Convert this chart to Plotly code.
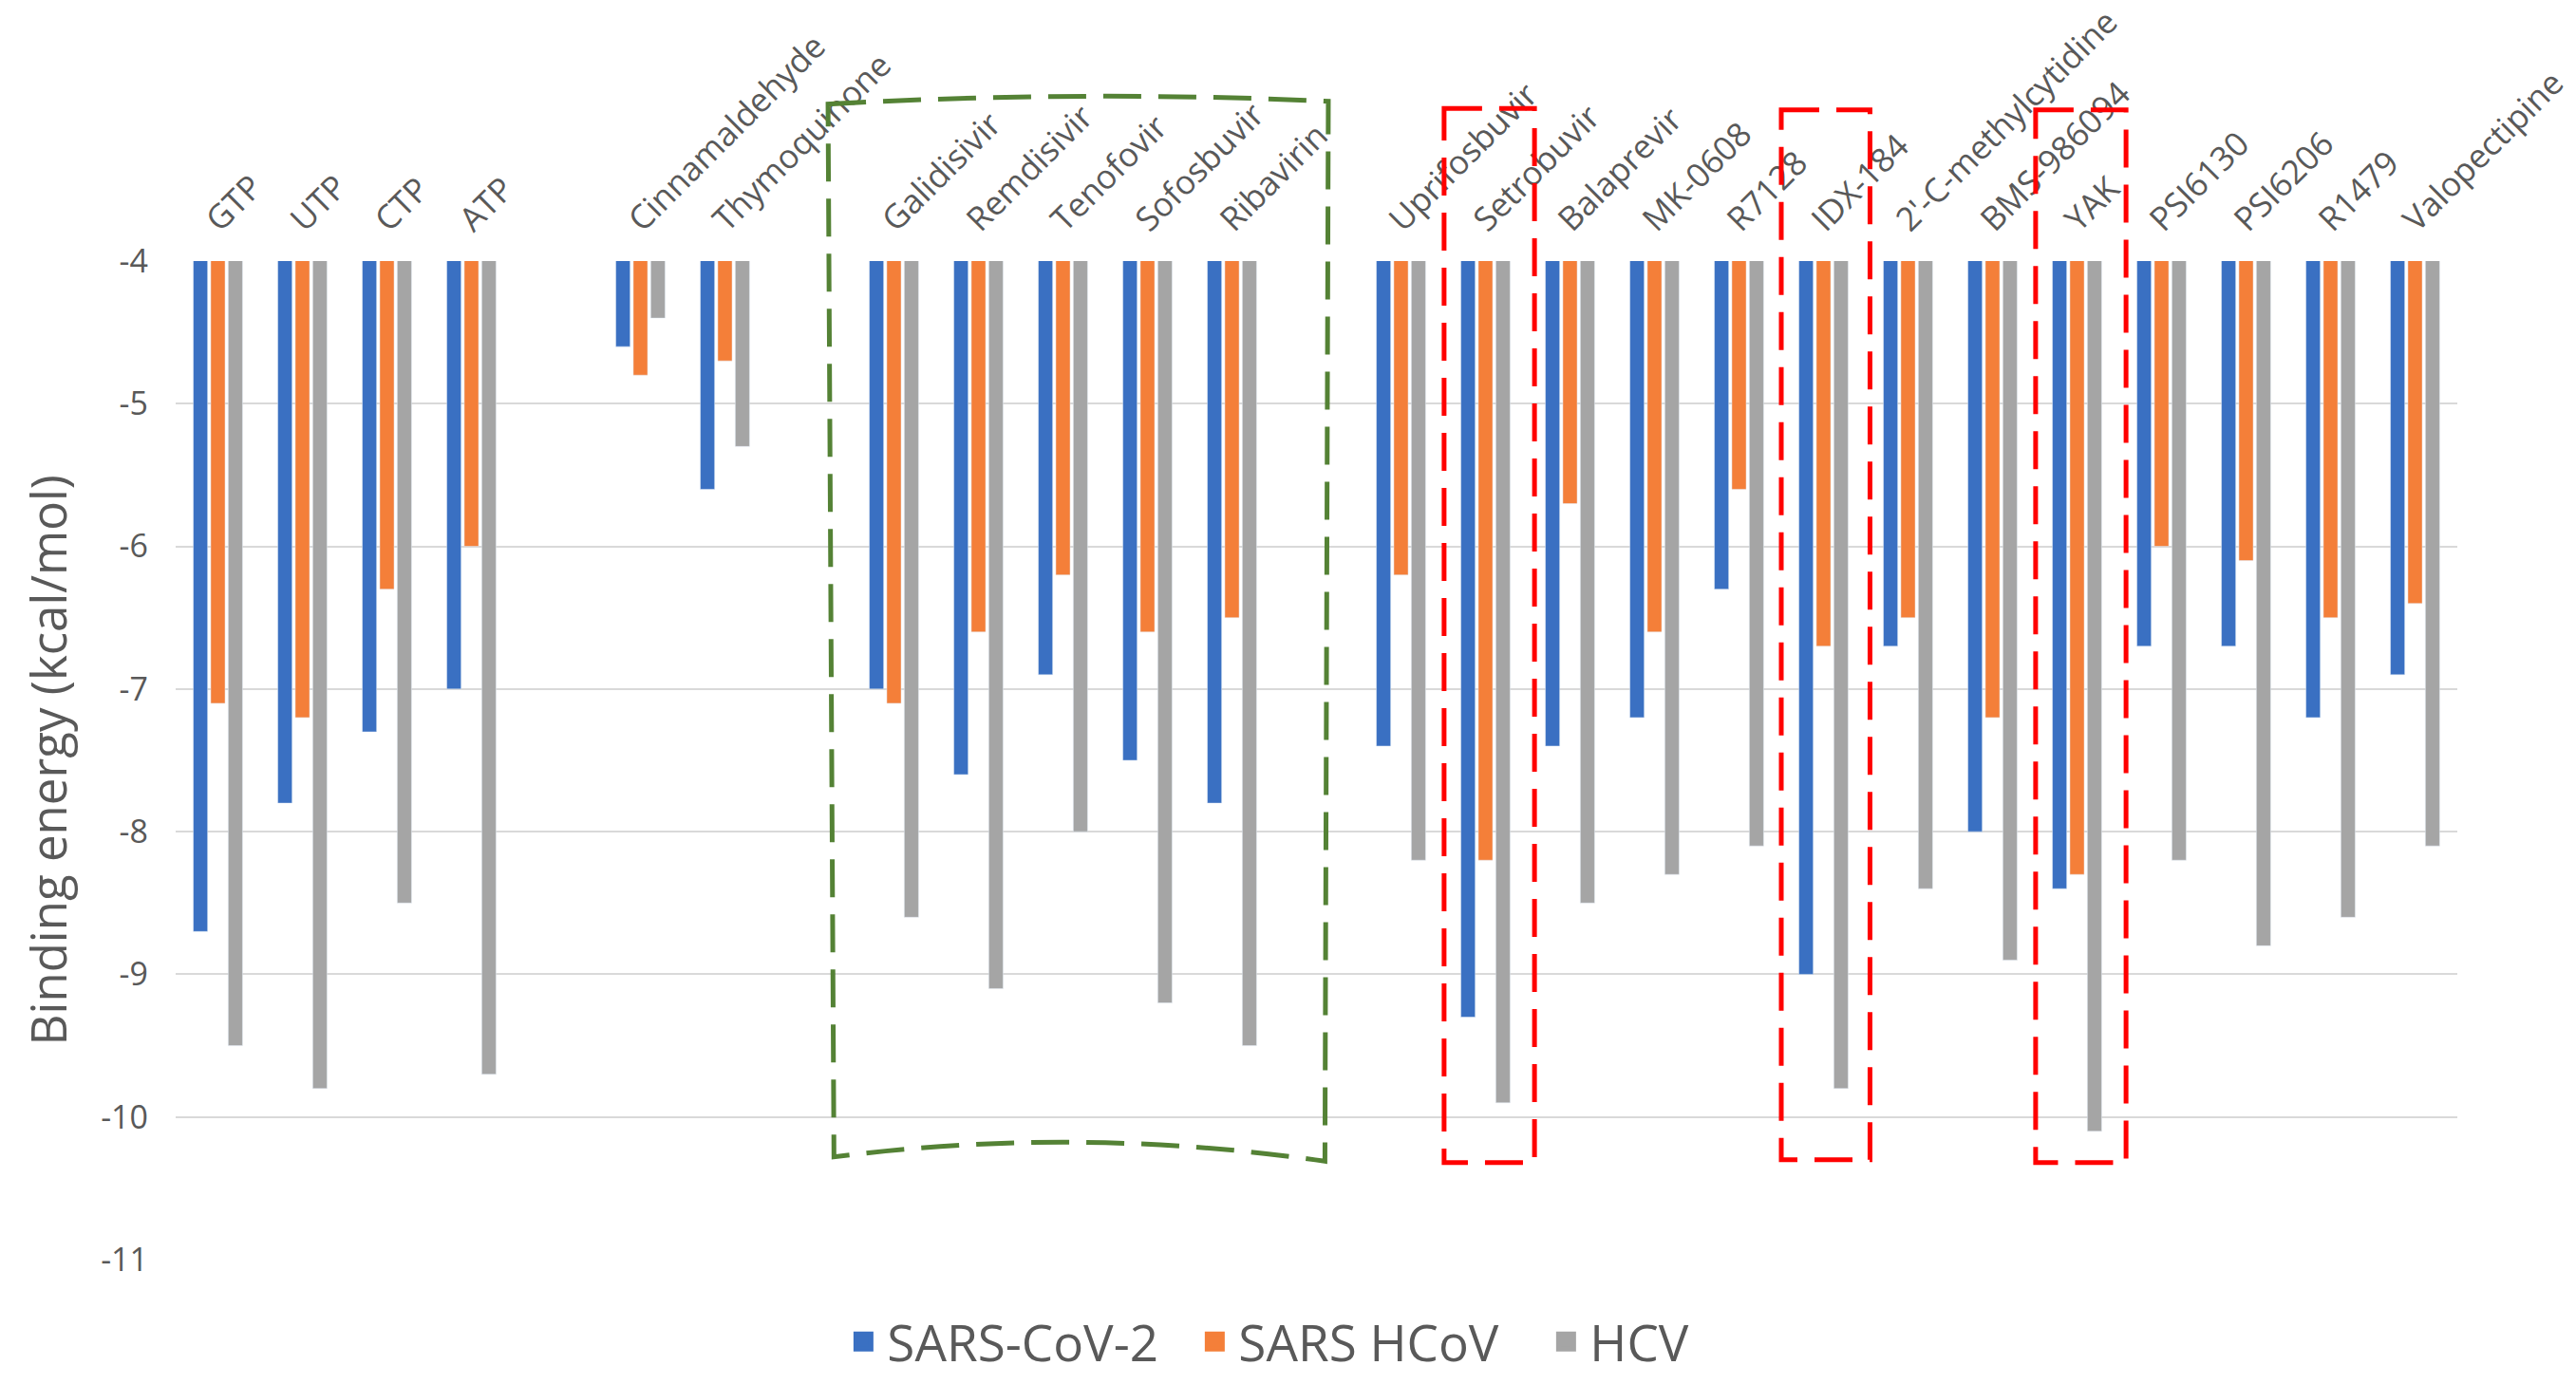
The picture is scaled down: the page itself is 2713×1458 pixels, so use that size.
import plotly.graph_objects as go

# compounds on the x axis ("" = empty slot between groups)
compounds = ["GTP", "UTP", "CTP", "ATP", "", "Cinnamaldehyde", "Thymoquinone", "",
             "Galidisivir", "Remdisivir", "Tenofovir", "Sofosbuvir", "Ribavirin", "",
             "Uprifosbuvir", "Setrobuvir", "Balaprevir", "MK-0608", "R7128", "IDX-184",
             "2'-C-methylcytidine", "BMS-986094", "YAK", "PSI6130", "PSI6206", "R1479",
             "Valopectipine"]

# binding energies (kcal/mol)
sars_cov2 = [-8.7, -7.8, -7.3, -7.0, None, -4.6, -5.6, None,
             -7.0, -7.6, -6.9, -7.5, -7.8, None,
             -7.4, -9.3, -7.4, -7.2, -6.3, -9.0, -6.7, -8.0, -8.4, -6.7, -6.7, -7.2, -6.9]
sars_hcov = [-7.1, -7.2, -6.3, -6.0, None, -4.8, -4.7, None,
             -7.1, -6.6, -6.2, -6.6, -6.5, None,
             -6.2, -8.2, -5.7, -6.6, -5.6, -6.7, -6.5, -7.2, -8.3, -6.0, -6.1, -6.5, -6.4]
hcv = [-9.5, -9.8, -8.5, -9.7, None, -4.4, -5.3, None,
       -8.6, -9.1, -8.0, -9.2, -9.5, None,
       -8.2, -9.9, -8.5, -8.3, -8.1, -9.8, -8.4, -8.9, -10.1, -8.2, -8.8, -8.6, -8.1]

y_ticks = [-4, -5, -6, -7, -8, -9, -10, -11]

Y_MIN, Y_MAX = -11, -4
FONT = "Open Sans"
TXT = "#595959"

x = list(range(len(compounds)))
label_pos = [i for i, c in enumerate(compounds) if c]
label_txt = [c for c in compounds if c]

fig = go.Figure()
for name, vals, col in [("SARS-CoV-2", sars_cov2, "#3A70C2"),
                        ("SARS HCoV", sars_hcov, "#F47F39"),
                        ("HCV", hcv, "#A5A5A5")]:
    fig.add_trace(go.Bar(x=x, y=vals, name=name, marker_color=col,
                         legendgroup=name, showlegend=False))
    # legend-only entry so the key square is bigger than the default bar swatch
    fig.add_trace(go.Scatter(x=[None], y=[None], mode="markers", name=name,
                             legendgroup=name,
                             marker=dict(symbol="square", size=16, color=col,
                                         line=dict(color=col, width=5))))


def py(v):
    # value -> paper y (so the boxes can go above the plot area)
    return (v - Y_MIN) / (Y_MAX - Y_MIN)


def box(xl, xr, yt, yb, color):
    return dict(type="path", xref="x", yref="paper",
                path=f"M{xl},{py(yt)} L{xr},{py(yt)} L{xr},{py(yb)} L{xl},{py(yb)} Z",
                line=dict(color=color, width=5, dash="40px,18px"))


green = "#548235"
green_path = (f"M7.22,{py(-2.90)} Q10.18,{py(-2.80)} 13.14,{py(-2.88)} "
              f"L13.10,{py(-10.31)} Q10.18,{py(-10.06)} 7.29,{py(-10.28)} Z")
shapes = [
    dict(type="path", xref="x", yref="paper", path=green_path,
         line=dict(color=green, width=5, dash="40px,18px")),
    box(14.51, 15.58, -2.93, -10.32, "#FF0000"),
    box(18.50, 19.55, -2.94, -10.30, "#FF0000"),
    box(21.51, 22.58, -2.94, -10.32, "#FF0000"),
]

fig.update_layout(
    width=2713, height=1458,
    margin=dict(l=177, r=133, t=267, b=132),
    paper_bgcolor="white", plot_bgcolor="white",
    font=dict(family=FONT, color=TXT),
    barmode="group", bargap=0.38, bargroupgap=0.18,
    showlegend=True,
    legend=dict(orientation="h", x=0.522, xanchor="center", y=-0.082, yanchor="middle",
                font=dict(size=53, color=TXT), itemwidth=40,
                entrywidth=315, entrywidthmode="pixels"),
    shapes=shapes,
    annotations=[dict(text="Binding energy (kcal/mol)", textangle=-90,
                      xref="paper", yref="paper", x=-0.056, y=0.5,
                      xanchor="center", yanchor="middle", showarrow=False,
                      font=dict(size=51, color=TXT))],
)
fig.update_xaxes(
    side="top", range=[-0.5, len(compounds) - 0.5], automargin=False,
    tickmode="array", tickvals=label_pos, ticktext=label_txt,
    tickangle=-45, tickfont=dict(size=35, color=TXT),
    ticks="", ticklabelstandoff=16, ticklabelshift=-10, ticklabeloverflow="allow",
    showgrid=False, zeroline=False, showline=False,
)
fig.update_yaxes(
    range=[Y_MIN, Y_MAX], automargin=False,
    tickmode="array", tickvals=y_ticks, ticktext=[str(v) for v in y_ticks],
    tickfont=dict(size=34, color=TXT), ticklabelstandoff=28,
    showgrid=True, gridcolor="#D9D9D9", gridwidth=2,
    zeroline=False, showline=False,
)

fig.write_html("out.html")
